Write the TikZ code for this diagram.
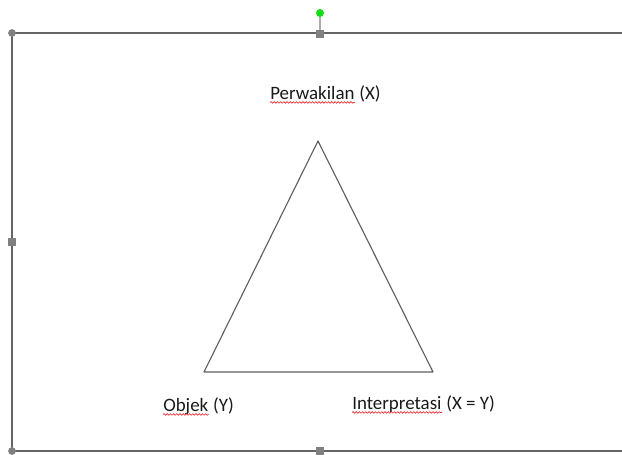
\documentclass[tikz,border=0pt]{standalone}
\usepackage{fontspec}
\setmainfont{Carlito}
\definecolor{frameGray}{RGB}{100,100,100}
\definecolor{handleGray}{RGB}{128,128,128}
\definecolor{stemGray}{RGB}{170,170,170}
\definecolor{lineGray}{RGB}{95,95,95}
\definecolor{spellRed}{RGB}{235,45,45}
\definecolor{rotGreen}{RGB}{20,220,20}
\usetikzlibrary{positioning,decorations.pathmorphing}

\begin{document}
\begin{tikzpicture}[x=0.75pt,y=-0.75pt,
    wordtext/.style={anchor=base west,inner sep=0pt,font=\fontsize{14.2}{17}\selectfont,text=black!90},
    spell/.style={spellRed,line width=0.5pt,decorate,decoration={snake,amplitude=0.6pt,segment length=2.4pt}},
    sqhandle/.style={fill=handleGray,minimum size=5.8pt,inner sep=0pt},
    rdhandle/.style={fill=handleGray,circle,minimum size=5.8pt,inner sep=0pt}]
    \useasboundingbox (0,0) rectangle (622,454);
    % Selection frame
    \coordinate (tl) at (12,33);
    \coordinate (bl) at (12,451);
    \coordinate (tr) at (622,33);
    \coordinate (br) at (622,451);
    \draw[frameGray,line width=1.2pt] (tr) -- (tl) -- (bl) -- (br);
    % Rotation handle
    \node[fill=rotGreen,circle,minimum size=6pt,inner sep=0pt] (rot) at (320,13) {};
    \node[sqhandle] (htop) at (320,34) {};
    \draw[stemGray,line width=0.8pt] (rot) -- (htop);
    % Handles
    \node[rdhandle] (htl) at (tl) {};
    \node[rdhandle] (hbl) at (bl) {};
    \node[sqhandle] (hleft) at (12,242) {};
    \node[sqhandle] (hbot) at (320,451) {};
    % Triangle
    \coordinate (apex) at (318,141);
    \coordinate (lcorner) at (204,372);
    \coordinate (rcorner) at (433,372);
    \draw[lineGray,line width=0.85pt,line join=round] (apex) -- (rcorner) -- (lcorner) -- cycle;
    % Labels
    \node[wordtext] (perw) at (270,99) {Perwakilan};
    \node[wordtext] (perwx) at ([xshift=3.2pt]perw.base east) {(X)};
    \node[wordtext] (obj) at (163,411) {Objek};
    \node[wordtext] (objy) at ([xshift=3.2pt]obj.base east) {(Y)};
    \node[wordtext] (intp) at (352,409) {Interpretasi};
    \node[wordtext] (intpxy) at ([xshift=3.2pt]intp.base east) {(X = Y)};
    % Spelling marks
    \draw[spell] ([yshift=-2.6pt]perw.base west) -- ([yshift=-2.6pt]perw.base east);
    \draw[spell] ([yshift=-2.6pt]obj.base west) -- ([yshift=-2.6pt]obj.base east);
    \draw[spell] ([yshift=-2.6pt]intp.base west) -- ([yshift=-2.6pt]intp.base east);
\end{tikzpicture}
\end{document}
